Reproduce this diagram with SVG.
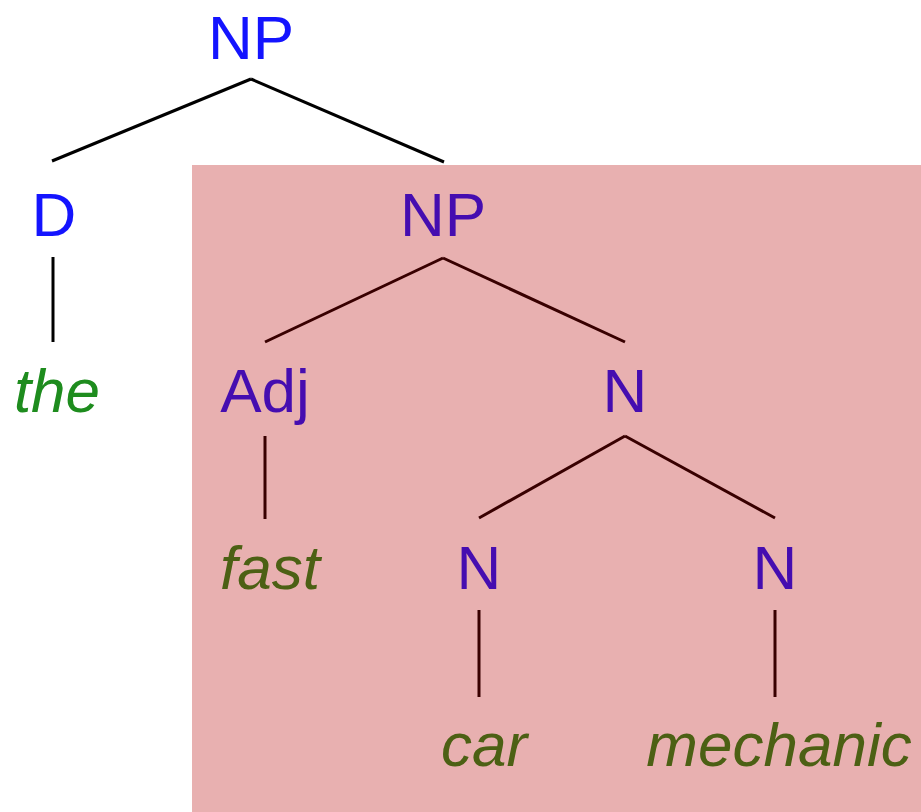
<svg xmlns="http://www.w3.org/2000/svg" width="921" height="812" viewBox="0 0 921 812">
  <style>
    .cat { font-family: "Liberation Sans", Arial, sans-serif; font-size: 62px; fill: #1414ff; text-anchor: middle; }
    .word { font-family: "Liberation Sans", Arial, sans-serif; font-size: 62px; font-style: italic; fill: #1e8c1e; text-anchor: middle; }
    .edge { stroke: #000; stroke-width: 3; fill: none; stroke-linecap: butt; }
  </style>
  <rect x="0" y="0" width="921" height="812" fill="#fff"/>

  <!-- tree edges -->
  <g id="connectors">
    <line class="edge" x1="251" y1="79" x2="52" y2="161"/>
    <line class="edge" x1="251" y1="79" x2="444" y2="162"/>
    <line class="edge" x1="53" y1="257" x2="53" y2="342"/>
    <line class="edge" x1="443" y1="258" x2="265" y2="342"/>
    <line class="edge" x1="443" y1="258" x2="625" y2="342"/>
    <line class="edge" x1="265" y1="436" x2="265" y2="519"/>
    <line class="edge" x1="625" y1="436" x2="479" y2="518"/>
    <line class="edge" x1="625" y1="436" x2="775" y2="518"/>
    <line class="edge" x1="479" y1="610" x2="479" y2="697"/>
    <line class="edge" x1="775" y1="610" x2="775" y2="697"/>
  </g>

  <!-- nodes -->
  <g id="np-root"><text class="cat" x="251" y="59">NP</text></g>
  <g id="d"><text class="cat" x="54" y="236">D</text></g>
  <g id="the"><text class="word" x="57" y="412">the</text></g>
  <g id="np-inner"><text class="cat" x="443" y="236">NP</text></g>
  <g id="adj"><text class="cat" x="265" y="412">Adj</text></g>
  <g id="fast"><text class="word" x="270" y="589">fast</text></g>
  <g id="n-compound"><text class="cat" x="625" y="412">N</text></g>
  <g id="n-car"><text class="cat" x="479" y="589">N</text></g>
  <g id="car"><text class="word" x="484" y="766">car</text></g>
  <g id="n-mechanic"><text class="cat" x="775" y="589">N</text></g>
  <g id="mechanic"><text class="word" x="779" y="766">mechanic</text></g>

  <!-- translucent highlight over the inner NP constituent -->
  <rect id="highlight" x="192" y="165" width="729" height="647" fill="rgb(181,0,0)" fill-opacity="0.31"/>
</svg>
